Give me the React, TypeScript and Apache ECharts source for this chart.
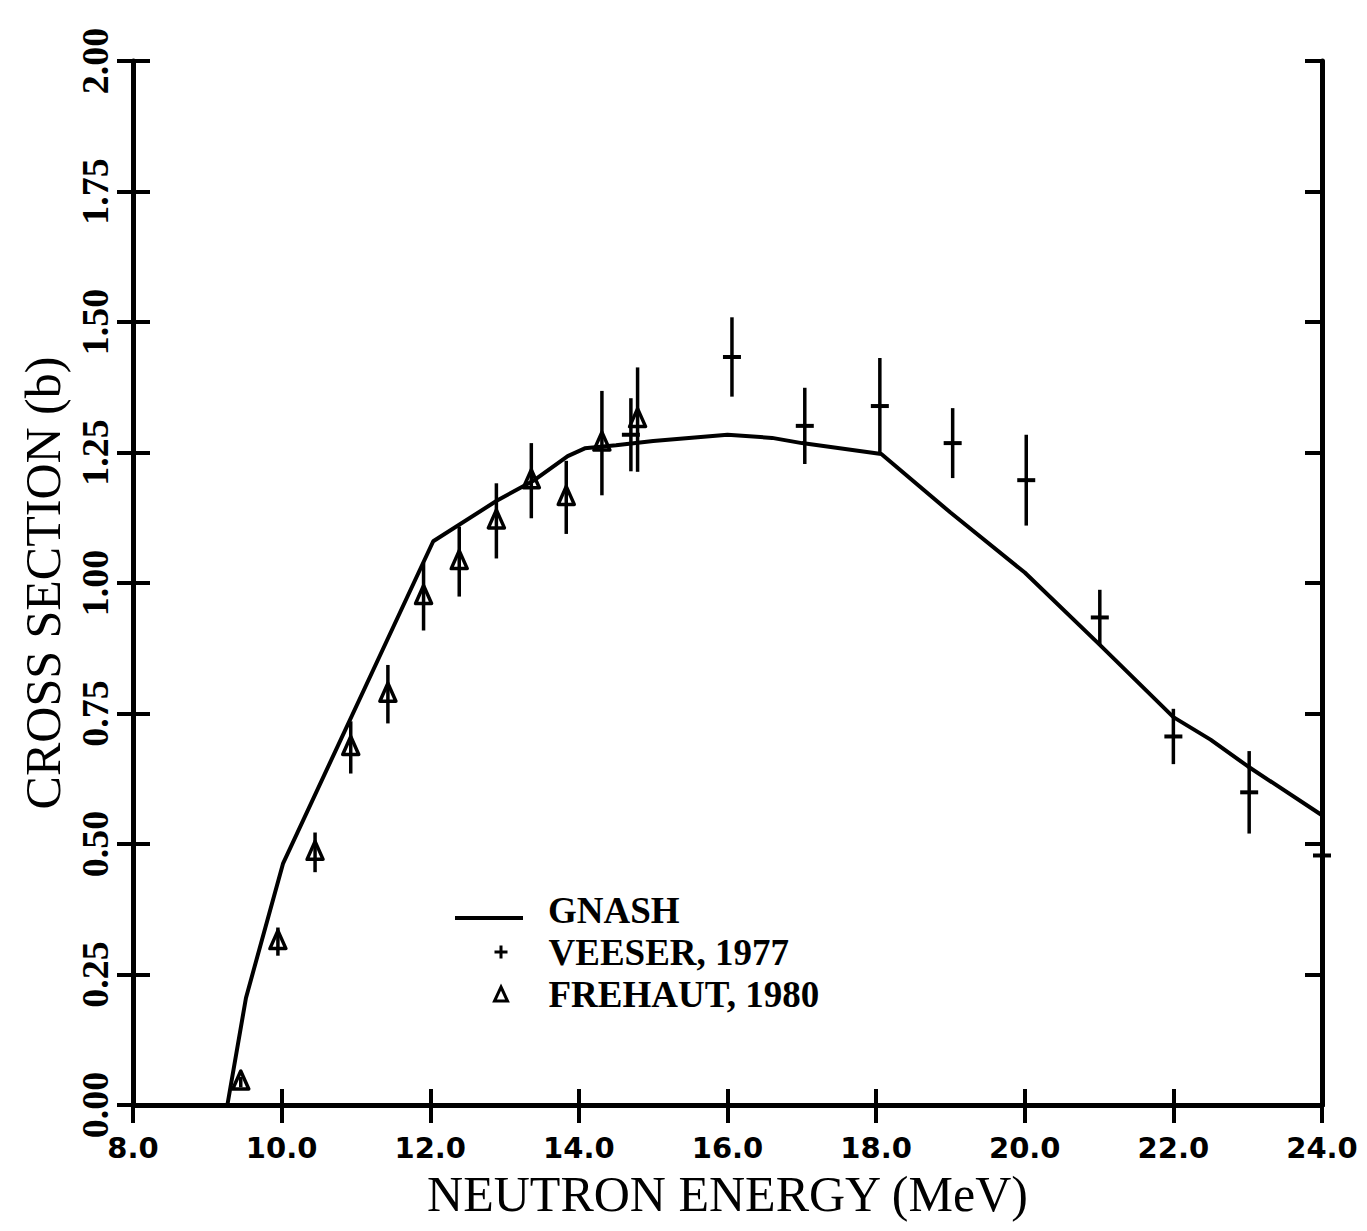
import React, { useEffect, useRef } from "react";
import * as echarts from "echarts";

// GNASH calculation (solid line)
const gnashX = [9.27, 9.52, 10.02, 12.04, 12.9, 13.4, 13.85, 14.08, 14.5, 15.0, 16.0, 16.6, 17.0, 18.07, 19.0, 20.0, 21.0, 22.0, 22.5, 23.0, 24.0];
const gnashY = [0.0, 0.205, 0.463, 1.08, 1.158, 1.197, 1.243, 1.258, 1.264, 1.272, 1.284, 1.278, 1.268, 1.247, 1.135, 1.02, 0.883, 0.743, 0.7, 0.649, 0.555];

// VEESER, 1977 (+ with error bars)
const veeserX = [14.7, 16.06, 17.04, 18.05, 19.03, 20.02, 21.01, 22.0, 23.02, 24.0];
const veeserY = [1.284, 1.433, 1.301, 1.339, 1.268, 1.197, 0.934, 0.706, 0.599, 0.478];
const veeserErr = [0.07, 0.076, 0.073, 0.092, 0.067, 0.087, 0.053, 0.053, 0.079, 0.02];

// FREHAUT, 1980 (triangles with error bars)
const frehautX = [9.45, 9.95, 10.45, 10.93, 11.43, 11.91, 12.39, 12.89, 13.36, 13.83, 14.31, 14.79];
const frehautY = [0.044, 0.313, 0.484, 0.685, 0.787, 0.974, 1.041, 1.119, 1.196, 1.164, 1.268, 1.313];
const frehautErr = [0.01, 0.027, 0.038, 0.05, 0.056, 0.065, 0.067, 0.072, 0.072, 0.07, 0.1, 0.1];

const xTickLabels = ["8.0", "10.0", "12.0", "14.0", "16.0", "18.0", "20.0", "22.0", "24.0"];
const yTickLabels = ["0.00", "0.25", "0.50", "0.75", "1.00", "1.25", "1.50", "1.75", "2.00"];

const X_MIN = 8, X_MAX = 24, X_STEP = 2;
const Y_MIN = 0, Y_MAX = 2, Y_STEP = 0.25;

const SERIF = "'Liberation Serif', 'Times New Roman', serif";

export default function App() {
  const ref = useRef<HTMLDivElement>(null);

  useEffect(() => {
    if (!ref.current) return;
    const chart = echarts.init(ref.current, null, { renderer: "svg" });

    const gnashData = gnashX.map((x, i) => [x, gnashY[i]]);
    const veeserData = veeserX.map((x, i) => [x, veeserY[i], veeserErr[i]]);
    const frehautData = frehautX.map((x, i) => [x, frehautY[i], frehautErr[i]]);

    const axisLine = { show: true, lineStyle: { color: "#000", width: 5 } };
    const baseX = { type: "value", min: X_MIN, max: X_MAX, interval: X_STEP, splitLine: { show: false } };
    const baseY = { type: "value", min: Y_MIN, max: Y_MAX, interval: Y_STEP, splitLine: { show: false } };

    const renderVeeser = (params: any, api: any) => {
      const x = api.value(0), y = api.value(1), e = api.value(2);
      const c = api.coord([x, y]);
      const t = api.coord([x, y + e]);
      const b = api.coord([x, y - e]);
      return {
        type: "group",
        children: [
          { type: "line", shape: { x1: c[0], y1: t[1], x2: c[0], y2: b[1] }, style: { stroke: "#000", lineWidth: 3.5 } },
          { type: "line", shape: { x1: c[0] - 9, y1: c[1], x2: c[0] + 9, y2: c[1] }, style: { stroke: "#000", lineWidth: 4 } },
        ],
      };
    };

    const renderFrehaut = (params: any, api: any) => {
      const x = api.value(0), y = api.value(1), e = api.value(2);
      const c = api.coord([x, y]);
      const t = api.coord([x, y + e]);
      const b = api.coord([x, y - e]);
      return {
        type: "group",
        children: [
          { type: "line", shape: { x1: c[0], y1: t[1], x2: c[0], y2: b[1] }, style: { stroke: "#000", lineWidth: 3.5 } },
          {
            type: "polygon",
            shape: { points: [[c[0], c[1] - 11], [c[0] - 8, c[1] + 7], [c[0] + 8, c[1] + 7]] },
            style: { fill: "none", stroke: "#000", lineWidth: 3.5, lineJoin: "round" },
          },
        ],
      };
    };

    const legendText = { fontFamily: SERIF, fontWeight: "bold", fontSize: 37, lineHeight: 42, color: "#000" };

    chart.setOption({
      animation: false,
      backgroundColor: "#fff",
      grid: { left: 133, top: 61, width: 1189, height: 1044, containLabel: false },
      legend: [
        {
          data: [{ name: "GNASH", icon: "path://M0,0M0,16H68V20H0Z", itemStyle: { color: "#000" } }],
          orient: "vertical",
          left: 455,
          top: 889,
          padding: 0,
          itemWidth: 68,
          itemHeight: 20,
          textStyle: { ...legendText, padding: [0, 0, 0, 20] },
          selectedMode: false,
        },
        {
          data: [
            { name: "VEESER, 1977", icon: "path://M5,0H8V5H13V8H8V13H5V8H0V5H5Z", itemStyle: { color: "#000" } },
            { name: "FREHAUT, 1980", icon: "triangle", itemStyle: { color: "#fff", borderColor: "#000", borderWidth: 3 } },
          ],
          orient: "vertical",
          left: 493,
          top: 931,
          padding: 0,
          itemGap: 0,
          itemWidth: 13,
          itemHeight: 14,
          textStyle: { ...legendText, padding: [0, 0, 0, 36] },
          selectedMode: false,
        },
      ],
      xAxis: [
        {
          ...baseX,
          position: "bottom",
          axisLine,
          axisTick: { show: true, inside: true, length: 16, lineStyle: { color: "#000", width: 4 } },
          axisLabel: {
            show: true,
            margin: 28,
            fontFamily: "'DejaVu Sans', sans-serif",
            fontWeight: "bold",
            fontSize: 29,
            lineHeight: 29,
            color: "#000",
            formatter: (v: number) => xTickLabels[Math.round((v - X_MIN) / X_STEP)],
          },
          name: "NEUTRON ENERGY (MeV)",
          nameLocation: "middle",
          nameGap: 64,
          nameTextStyle: { fontFamily: SERIF, fontSize: 50, lineHeight: 50, color: "#000" },
        },
        {
          ...baseX,
          position: "bottom",
          axisLine: { show: false },
          axisTick: { show: true, inside: false, length: 18, lineStyle: { color: "#000", width: 4 } },
          axisLabel: { show: false },
        },
        {
          ...baseX,
          position: "top",
          axisLine,
          axisTick: { show: true, inside: true, length: 16, lineStyle: { color: "#000", width: 4 } },
          axisLabel: { show: false },
        },
      ],
      yAxis: [
        {
          ...baseY,
          position: "left",
          axisLine,
          axisTick: { show: true, inside: true, length: 17, lineStyle: { color: "#000", width: 4 } },
          axisLabel: {
            show: true,
            rotate: 90,
            margin: 19,
            fontFamily: SERIF,
            fontWeight: "bold",
            fontSize: 38,
            lineHeight: 38,
            color: "#000",
            formatter: (v: number) => yTickLabels[Math.round((v - Y_MIN) / Y_STEP)],
          },
          name: "CROSS SECTION (b)",
          nameLocation: "middle",
          nameRotate: 90,
          nameGap: 53,
          nameTextStyle: { fontFamily: SERIF, fontSize: 50, lineHeight: 50, color: "#000" },
        },
        {
          ...baseY,
          position: "left",
          axisLine: { show: false },
          axisTick: { show: true, inside: false, length: 16, lineStyle: { color: "#000", width: 4 } },
          axisLabel: { show: false },
        },
        {
          ...baseY,
          position: "right",
          axisLine,
          axisTick: { show: true, inside: true, length: 17, lineStyle: { color: "#000", width: 4 } },
          axisLabel: { show: false },
        },
      ],
      series: [
        {
          name: "GNASH",
          type: "line",
          xAxisIndex: 0,
          yAxisIndex: 0,
          data: gnashData,
          showSymbol: false,
          symbol: "none",
          lineStyle: { color: "#000", width: 4 },
          itemStyle: { color: "#000" },
          z: 3,
        },
        {
          name: "VEESER, 1977",
          type: "custom",
          xAxisIndex: 0,
          yAxisIndex: 0,
          data: veeserData,
          encode: { x: 0, y: 1 },
          renderItem: renderVeeser,
          clip: false,
          itemStyle: { color: "#000" },
          z: 4,
        },
        {
          name: "FREHAUT, 1980",
          type: "custom",
          xAxisIndex: 0,
          yAxisIndex: 0,
          data: frehautData,
          encode: { x: 0, y: 1 },
          renderItem: renderFrehaut,
          clip: false,
          itemStyle: { color: "#000" },
          z: 4,
        },
      ],
    });

    return () => chart.dispose();
  }, []);

  return (
    <div
      ref={ref}
      style={{ position: "fixed", left: 0, top: 0, width: 1367, height: 1231, background: "#fff" }}
    />
  );
}
